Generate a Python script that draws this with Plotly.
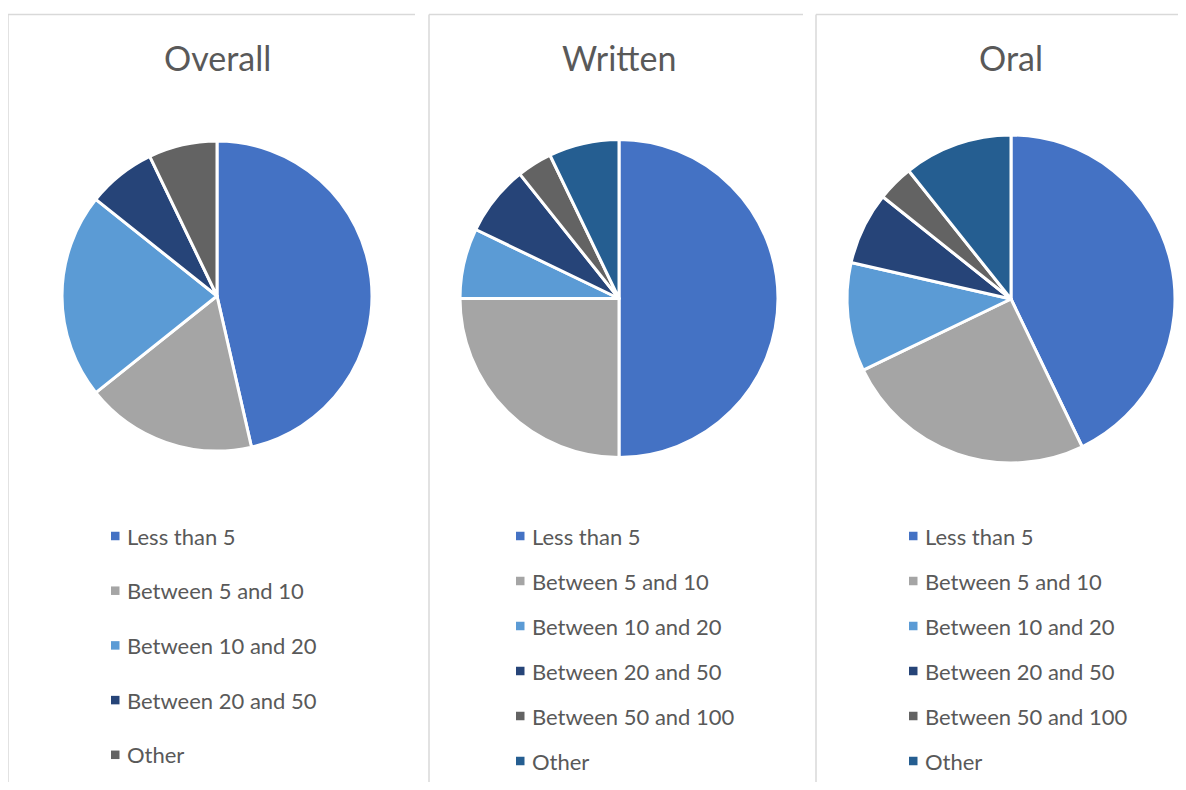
"""THREE PIE CHARTS: OVERALL / WRITTEN / ORAL"""

import plotly.graph_objects as go

# the page body keeps its default 8px margin, so the figure is drawn 8px in
OFFSET = 8
WIDTH, HEIGHT = 1186 - 2 * OFFSET, 790 - 2 * OFFSET
FONT = "Lato"
TEXT_COLOR = "#595959"
BORDER_COLOR = "#D9D9D9"

titles = ["Overall", "Written", "Oral"]

labels_overall = [
    "Less than 5",
    "Between 5 and 10",
    "Between 10 and 20",
    "Between 20 and 50",
    "Other",
]
values_overall = [13, 5, 6, 2, 2]
colors_overall = ["#4472C4", "#A5A5A5", "#5B9BD5", "#264478", "#636363"]

labels_written = [
    "Less than 5",
    "Between 5 and 10",
    "Between 10 and 20",
    "Between 20 and 50",
    "Between 50 and 100",
    "Other",
]
values_written = [14, 7, 2, 2, 1, 2]
colors_written = ["#4472C4", "#A5A5A5", "#5B9BD5", "#264478", "#636363", "#255E91"]

labels_oral = labels_written
values_oral = [12, 7, 3, 2, 1, 3]
colors_oral = colors_written

# panel geometry in screen pixels: frame edges, pie centre, radius, legend
panels = [
    {"left": 8, "right": 415, "cx": 217, "cy": 296, "r": 155,
     "leg_x": 111, "leg_y": 536, "leg_step": 54.7},
    {"left": 429, "right": 803, "cx": 619, "cy": 298.5, "r": 159,
     "leg_x": 516, "leg_y": 536, "leg_step": 45},
    {"left": 816, "right": 1186, "cx": 1011, "cy": 299, "r": 164,
     "leg_x": 909, "leg_y": 536, "leg_step": 45},
]
PANEL_TOP = 14.5
TITLE_Y = 57


def px_x(x: float) -> float:
    return (x - OFFSET) / WIDTH


def px_y(y: float) -> float:
    return 1 - (y - OFFSET) / HEIGHT


data = [
    (labels_overall, values_overall, colors_overall),
    (labels_written, values_written, colors_written),
    (labels_oral, values_oral, colors_oral),
]

fig = go.Figure()
shapes = []
annotations = []

for title, (labels, values, colors), panel in zip(titles, data, panels):
    cx, cy, r = panel["cx"], panel["cy"], panel["r"]
    fig.add_trace(
        go.Pie(
            labels=labels,
            values=values,
            name=title,
            sort=False,
            direction="clockwise",
            rotation=0,
            marker=dict(colors=colors, line=dict(color="white", width=3)),
            textinfo="none",
            showlegend=False,
            domain=dict(
                x=[px_x(cx - r), px_x(cx + r)],
                y=[px_y(cy + r), px_y(cy - r)],
            ),
        )
    )

    # panel frame (top + left edge)
    shapes.append(dict(type="line", xref="paper", yref="paper",
                       x0=px_x(panel["left"]), x1=min(px_x(panel["right"]), 1),
                       y0=px_y(PANEL_TOP), y1=px_y(PANEL_TOP),
                       line=dict(color=BORDER_COLOR, width=1.5)))
    shapes.append(dict(type="line", xref="paper", yref="paper",
                       x0=px_x(panel["left"]), x1=px_x(panel["left"]),
                       y0=px_y(PANEL_TOP), y1=0,
                       line=dict(color=BORDER_COLOR, width=1.5)))

    annotations.append(dict(text=title, xref="paper", yref="paper",
                            x=px_x(cx), y=px_y(TITLE_Y),
                            xanchor="center", yanchor="middle", showarrow=False,
                            font=dict(family=FONT, size=34, color=TEXT_COLOR)))

    # legend rows
    for i, (label, color) in enumerate(zip(labels, colors)):
        ly = panel["leg_y"] + i * panel["leg_step"]
        lx = panel["leg_x"]
        shapes.append(dict(type="rect", xref="paper", yref="paper",
                           x0=px_x(lx), x1=px_x(lx + 8.5),
                           y0=px_y(ly + 4.25), y1=px_y(ly - 4.25),
                           fillcolor=color, line=dict(width=0)))
        annotations.append(dict(text=label, xref="paper", yref="paper",
                                x=px_x(lx + 14), y=px_y(ly),
                                xanchor="left", yanchor="middle", showarrow=False,
                                font=dict(family=FONT, size=22, color=TEXT_COLOR)))

fig.update_layout(
    width=WIDTH,
    height=HEIGHT,
    margin=dict(l=0, r=0, t=0, b=0),
    paper_bgcolor="white",
    plot_bgcolor="white",
    shapes=shapes,
    annotations=annotations,
    font=dict(family=FONT, color=TEXT_COLOR),
)

fig.write_html("out.html")
